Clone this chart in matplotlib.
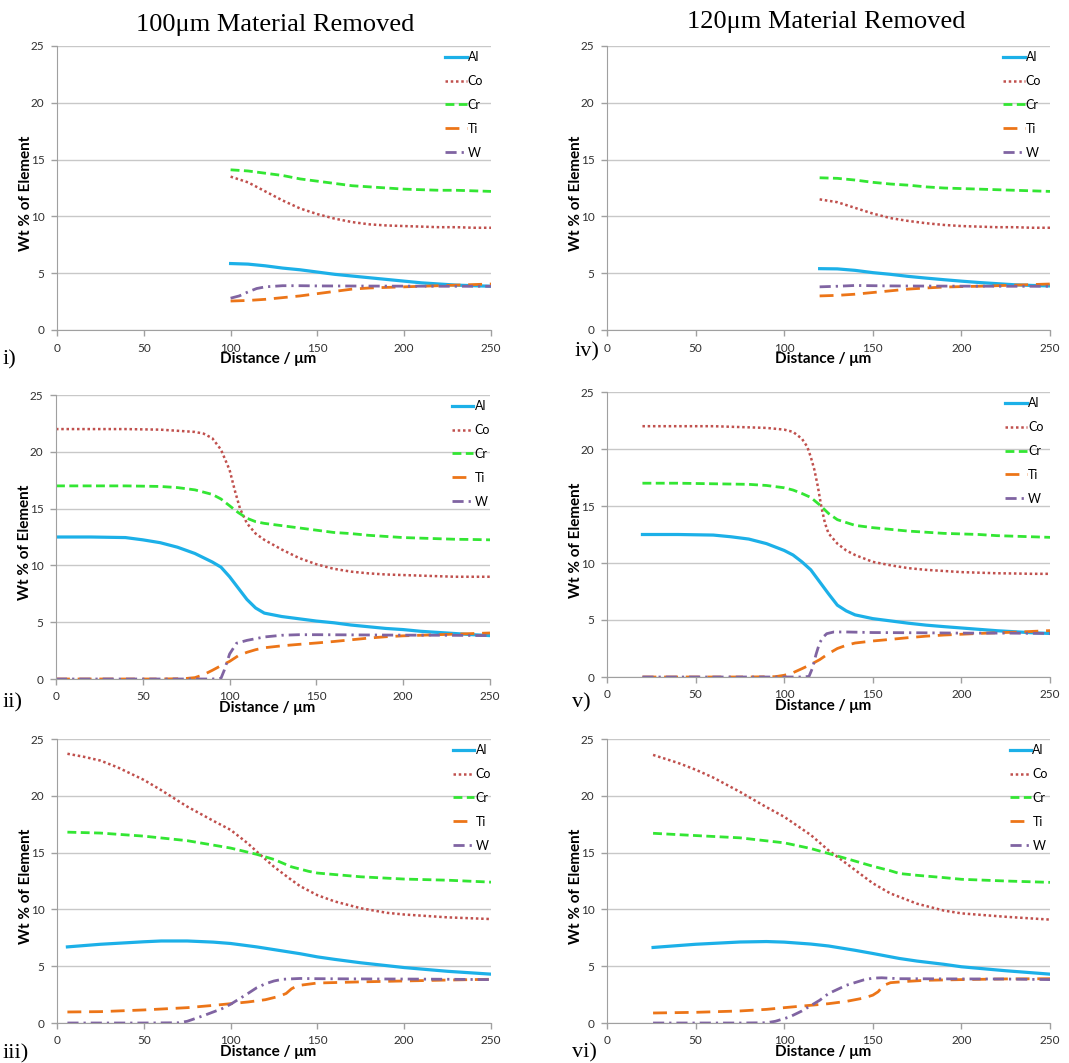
import matplotlib
matplotlib.use("Agg")
import matplotlib.pyplot as plt

plt.rcParams["font.family"] = ["Lato", "DejaVu Sans"]

# ---- panel i) 100um removed, x from 100 ----
i_al_x = [100, 110, 120, 130, 140, 150, 160, 170, 180, 190, 200, 210, 220, 230, 240, 250]
i_al = [5.85, 5.8, 5.65, 5.45, 5.3, 5.1, 4.9, 4.75, 4.6, 4.45, 4.3, 4.15, 4.05, 3.95, 3.9, 3.85]
i_co_x = [100, 110, 120, 130, 140, 150, 160, 170, 180, 190, 200, 210, 220, 230, 240, 250]
i_co = [13.5, 13.0, 12.2, 11.4, 10.7, 10.2, 9.8, 9.5, 9.3, 9.2, 9.15, 9.1, 9.05, 9.05, 9.0, 9.0]
i_cr_x = [100, 110, 120, 130, 140, 150, 160, 170, 180, 190, 200, 210, 220, 230, 240, 250]
i_cr = [14.1, 14.0, 13.8, 13.6, 13.3, 13.1, 12.9, 12.7, 12.6, 12.5, 12.4, 12.35, 12.3, 12.3, 12.25, 12.2]
i_ti_x = [100, 110, 120, 130, 140, 150, 160, 170, 180, 190, 200, 210, 220, 230, 240, 250]
i_ti = [2.55, 2.6, 2.7, 2.85, 3.0, 3.2, 3.4, 3.6, 3.7, 3.75, 3.8, 3.85, 3.9, 3.95, 4.0, 4.05]
i_w_x = [100, 105, 110, 115, 120, 130, 140, 150, 175, 200, 225, 250]
i_w = [2.8, 3.0, 3.35, 3.65, 3.8, 3.9, 3.9, 3.88, 3.87, 3.86, 3.85, 3.85]

# ---- panel ii) ----
ii_al_x = [0, 20, 40, 50, 60, 70, 80, 90, 95, 100, 105, 110, 115, 120, 130, 140, 150, 160, 170, 180, 190, 200, 210, 220, 230, 240, 250]
ii_al = [12.5, 12.5, 12.45, 12.25, 12.0, 11.6, 11.05, 10.3, 9.85, 9.0, 8.0, 7.0, 6.25, 5.8, 5.5, 5.3, 5.1, 4.95, 4.75, 4.6, 4.45, 4.35, 4.2, 4.1, 4.0, 3.9, 3.82]
ii_co_x = [0, 20, 40, 60, 70, 80, 85, 90, 95, 100, 103, 106, 110, 115, 120, 130, 140, 150, 160, 170, 180, 190, 200, 210, 220, 230, 240, 250]
ii_co = [22.0, 22.0, 22.0, 21.95, 21.85, 21.75, 21.6, 21.2, 20.2, 18.4, 16.6, 15.0, 13.7, 12.8, 12.25, 11.4, 10.65, 10.1, 9.7, 9.45, 9.3, 9.2, 9.15, 9.1, 9.05, 9.0, 9.0, 9.0]
ii_cr_x = [0, 20, 40, 60, 70, 80, 90, 95, 100, 105, 110, 115, 120, 130, 140, 150, 160, 170, 180, 190, 200, 210, 220, 230, 240, 250]
ii_cr = [17.0, 17.0, 17.0, 16.95, 16.85, 16.65, 16.25, 15.85, 15.25, 14.65, 14.15, 13.85, 13.7, 13.5, 13.3, 13.1, 12.9, 12.8, 12.65, 12.55, 12.45, 12.4, 12.35, 12.3, 12.28, 12.25]
ii_ti_x = [0, 20, 40, 60, 70, 75, 80, 85, 90, 95, 100, 105, 110, 115, 120, 130, 140, 150, 160, 170, 180, 190, 200, 210, 220, 230, 240, 250]
ii_ti = [0, 0, 0, 0, 0.02, 0.05, 0.12, 0.38, 0.76, 1.17, 1.55, 2.05, 2.35, 2.58, 2.75, 2.92, 3.05, 3.17, 3.3, 3.45, 3.6, 3.72, 3.8, 3.85, 3.9, 3.95, 4.0, 4.05]
ii_w_x = [0, 20, 40, 60, 80, 90, 95, 97, 100, 104, 110, 115, 120, 130, 140, 150, 175, 200, 225, 250]
ii_w = [0, 0, 0, 0, 0, 0, 0.05, 0.8, 2.2, 3.15, 3.4, 3.55, 3.7, 3.85, 3.9, 3.9, 3.88, 3.86, 3.85, 3.82]

# ---- panel iii) ----
iii_al_x = [6, 25, 50, 60, 75, 90, 100, 115, 125, 140, 150, 160, 175, 200, 225, 250]
iii_al = [6.7, 6.93, 7.15, 7.22, 7.22, 7.12, 7.0, 6.7, 6.46, 6.1, 5.82, 5.6, 5.3, 4.88, 4.55, 4.3]
iii_co_x = [6, 15, 25, 35, 50, 60, 75, 90, 100, 110, 115, 125, 135, 140, 150, 160, 175, 190, 200, 225, 250]
iii_co = [23.7, 23.45, 23.1, 22.5, 21.4, 20.5, 19.05, 17.8, 17.0, 15.8, 15.1, 13.75, 12.6, 12.05, 11.25, 10.7, 10.1, 9.7, 9.55, 9.3, 9.15]
iii_cr_x = [6, 25, 50, 75, 100, 115, 125, 135, 145, 150, 175, 200, 225, 250]
iii_cr = [16.8, 16.72, 16.45, 16.05, 15.4, 14.85, 14.4, 13.75, 13.35, 13.2, 12.87, 12.67, 12.57, 12.4]
iii_ti_x = [6, 25, 50, 75, 90, 100, 110, 120, 128, 132, 135, 138, 140, 150, 175, 200, 225, 250]
iii_ti = [0.97, 1.0, 1.15, 1.35, 1.55, 1.7, 1.85, 2.05, 2.35, 2.6, 3.0, 3.25, 3.32, 3.52, 3.62, 3.7, 3.78, 3.85]
iii_w_x = [6, 25, 50, 70, 75, 85, 95, 100, 110, 115, 120, 125, 130, 140, 150, 175, 200, 225, 250]
iii_w = [0, 0, 0, 0.02, 0.15, 0.68, 1.26, 1.65, 2.6, 3.1, 3.45, 3.7, 3.85, 3.92, 3.9, 3.88, 3.87, 3.85, 3.82]

# ---- panel iv) 120um removed, x from 120 ----
iv_al_x = [120, 130, 140, 150, 160, 170, 180, 190, 200, 210, 220, 230, 240, 250]
iv_al = [5.4, 5.38, 5.25, 5.05, 4.9, 4.72, 4.57, 4.43, 4.3, 4.18, 4.08, 3.98, 3.92, 3.88]
iv_co_x = [120, 130, 140, 150, 160, 170, 180, 190, 200, 210, 220, 230, 240, 250]
iv_co = [11.5, 11.25, 10.75, 10.25, 9.85, 9.6, 9.4, 9.25, 9.15, 9.1, 9.05, 9.05, 9.0, 9.0]
iv_cr_x = [120, 130, 140, 150, 160, 170, 180, 190, 200, 210, 220, 230, 240, 250]
iv_cr = [13.4, 13.35, 13.2, 13.0, 12.85, 12.75, 12.6, 12.5, 12.45, 12.4, 12.35, 12.3, 12.25, 12.2]
iv_ti_x = [120, 130, 140, 150, 160, 170, 180, 190, 200, 210, 220, 230, 240, 250]
iv_ti = [3.0, 3.05, 3.15, 3.3, 3.45, 3.6, 3.7, 3.78, 3.82, 3.85, 3.9, 3.95, 4.0, 4.05]
iv_w_x = [120, 130, 140, 150, 160, 175, 200, 225, 250]
iv_w = [3.8, 3.85, 3.92, 3.9, 3.88, 3.87, 3.86, 3.85, 3.85]

# ---- panel v) ----
v_al_x = [20, 40, 60, 70, 80, 90, 100, 105, 110, 115, 120, 125, 130, 135, 140, 150, 160, 170, 180, 190, 200, 210, 220, 230, 240, 250]
v_al = [12.5, 12.5, 12.45, 12.3, 12.1, 11.7, 11.1, 10.7, 10.1, 9.4, 8.35, 7.3, 6.3, 5.8, 5.45, 5.12, 4.92, 4.72, 4.55, 4.42, 4.3, 4.18, 4.06, 3.97, 3.88, 3.82]
v_co_x = [20, 40, 60, 80, 90, 100, 105, 110, 113, 115, 117, 119, 121, 123, 125, 130, 135, 140, 150, 160, 170, 180, 190, 200, 210, 220, 230, 240, 250]
v_co = [22.0, 22.0, 22.0, 21.9, 21.85, 21.7, 21.5, 20.9, 20.2, 19.3, 18.2, 16.7, 14.9, 13.5, 12.6, 11.7, 11.1, 10.7, 10.1, 9.8, 9.55, 9.4, 9.3, 9.2, 9.15, 9.1, 9.08, 9.05, 9.05]
v_cr_x = [20, 40, 60, 80, 90, 100, 105, 110, 115, 120, 125, 130, 140, 150, 160, 170, 180, 190, 200, 210, 220, 230, 240, 250]
v_cr = [17.0, 17.0, 16.95, 16.9, 16.8, 16.6, 16.4, 16.1, 15.75, 15.1, 14.35, 13.8, 13.3, 13.1, 12.95, 12.8, 12.7, 12.6, 12.55, 12.5, 12.4, 12.35, 12.3, 12.25]
v_ti_x = [20, 40, 60, 80, 95, 100, 105, 110, 115, 120, 125, 130, 135, 140, 150, 160, 170, 180, 190, 200, 210, 220, 230, 240, 250]
v_ti = [0, 0, 0, 0, 0.03, 0.15, 0.38, 0.73, 1.1, 1.52, 2.05, 2.5, 2.78, 2.98, 3.16, 3.3, 3.45, 3.58, 3.68, 3.75, 3.82, 3.88, 3.93, 4.0, 4.07]
v_w_x = [20, 40, 60, 80, 100, 110, 114, 116, 118, 120, 122, 124, 128, 135, 150, 175, 200, 225, 250]
v_w = [0, 0, 0, 0, 0, 0, 0.05, 0.8, 2.0, 3.0, 3.5, 3.8, 3.95, 3.95, 3.9, 3.88, 3.85, 3.85, 3.82]

# ---- panel vi) ----
vi_al_x = [26, 50, 75, 90, 100, 115, 125, 140, 150, 165, 175, 190, 200, 225, 250]
vi_al = [6.65, 6.93, 7.13, 7.17, 7.12, 6.95, 6.78, 6.4, 6.12, 5.68, 5.45, 5.17, 4.95, 4.6, 4.3]
vi_co_x = [26, 40, 50, 60, 75, 90, 100, 115, 125, 135, 150, 160, 175, 190, 200, 225, 250]
vi_co = [23.6, 22.9, 22.3, 21.6, 20.35, 19.0, 18.15, 16.55, 15.2, 14.05, 12.3, 11.4, 10.5, 9.9, 9.65, 9.35, 9.1]
vi_cr_x = [26, 50, 75, 100, 115, 125, 135, 150, 160, 165, 175, 190, 200, 225, 250]
vi_cr = [16.7, 16.5, 16.3, 15.86, 15.36, 14.92, 14.48, 13.8, 13.4, 13.16, 13.0, 12.8, 12.65, 12.5, 12.38]
vi_ti_x = [26, 50, 75, 90, 100, 115, 125, 135, 145, 150, 153, 156, 160, 170, 180, 200, 225, 250]
vi_ti = [0.88, 0.94, 1.06, 1.2, 1.35, 1.56, 1.7, 1.9, 2.2, 2.45, 2.75, 3.3, 3.55, 3.67, 3.76, 3.82, 3.88, 3.9]
vi_w_x = [26, 50, 75, 90, 95, 103, 110, 120, 125, 135, 145, 150, 155, 165, 200, 225, 250]
vi_w = [0, 0, 0, 0.02, 0.15, 0.53, 1.06, 2.0, 2.59, 3.32, 3.8, 3.95, 3.98, 3.9, 3.88, 3.87, 3.82]

elements = ["Al", "Co", "Cr", "Ti", "W"]
x_ticks = [0, 50, 100, 150, 200, 250]
y_ticks = [0, 5, 10, 15, 20, 25]
col_titles = ["100\u03bcm Material Removed", "120\u03bcm Material Removed"]
panel_labels = ["i)", "ii)", "iii)", "iv)", "v)", "vi)"]

panels = [
    [(i_al_x, i_al), (i_co_x, i_co), (i_cr_x, i_cr), (i_ti_x, i_ti), (i_w_x, i_w)],
    [(ii_al_x, ii_al), (ii_co_x, ii_co), (ii_cr_x, ii_cr), (ii_ti_x, ii_ti), (ii_w_x, ii_w)],
    [(iii_al_x, iii_al), (iii_co_x, iii_co), (iii_cr_x, iii_cr), (iii_ti_x, iii_ti), (iii_w_x, iii_w)],
    [(iv_al_x, iv_al), (iv_co_x, iv_co), (iv_cr_x, iv_cr), (iv_ti_x, iv_ti), (iv_w_x, iv_w)],
    [(v_al_x, v_al), (v_co_x, v_co), (v_cr_x, v_cr), (v_ti_x, v_ti), (v_w_x, v_w)],
    [(vi_al_x, vi_al), (vi_co_x, vi_co), (vi_cr_x, vi_cr), (vi_ti_x, vi_ti), (vi_w_x, vi_w)],
]

styles = {
    "Al": dict(color="#1cb0e8", ls="-", lw=2.3),
    "Co": dict(color="#c0504d", ls=(0, (1, 1.1)), lw=1.8),
    "Cr": dict(color="#33e633", ls=(0, (3.2, 1.6)), lw=2.0),
    "Ti": dict(color="#ec7518", ls=(0, (5, 2.8)), lw=2.0),
    "W": dict(color="#8064a2", ls=(0, (4, 1.8, 0.8, 1.8)), lw=2.0),
}

fig = plt.figure(figsize=(10.69, 10.63), dpi=100)

W, H = 1069, 1063
# axes boxes in pixels: left, top, right, bottom
boxes = [
    (57, 46, 491, 330), (56, 395, 490, 679), (57, 739, 491, 1023),
    (607, 46, 1050, 330), (607, 392, 1050, 677), (607, 739, 1050, 1023),
]
legend_right = [0.982, 1.0, 1.0, 0.98, 0.985, 0.995]

for k, (box, curves) in enumerate(zip(boxes, panels)):
    l, t, r, b = box
    ax = fig.add_axes([l / W, 1 - b / H, (r - l) / W, (b - t) / H])
    for name, (xs, ys) in zip(elements, curves):
        ax.plot(xs, ys, label=name, **styles[name])
    ax.set_xlim(0, 250)
    ax.set_ylim(0, 25)
    ax.set_xticks(x_ticks)
    ax.set_yticks(y_ticks)
    ax.yaxis.grid(True, color="#c8c8c8", lw=1)
    ax.set_axisbelow(True)
    for s in ["top", "right"]:
        ax.spines[s].set_visible(False)
    for s in ["left", "bottom"]:
        ax.spines[s].set_color("#a0a0a0")
    ax.tick_params(axis="both", colors="#a0a0a0", labelcolor="#303030",
                   labelsize=8.5, length=4, width=1, pad=5)
    ax.set_xlabel("Distance / \u03bcm", fontsize=11, fontweight="bold")
    ax.xaxis.set_label_coords(0.487, -0.078)
    ax.set_ylabel("Wt % of Element", fontsize=11, fontweight="bold")
    ax.yaxis.set_label_coords(-0.055, 0.48)
    ax.legend(loc="upper right", bbox_to_anchor=(legend_right[k], 0.982),
              frameon=False, fontsize=9, handlelength=1.7, handletextpad=0.1,
              labelspacing=0.95, borderpad=0, borderaxespad=0)

fig.text(275 / W, 1 - 25 / H, col_titles[0], family="Liberation Serif",
         fontsize=19, ha="center", va="center")
fig.text(826 / W, 1 - 22 / H, col_titles[1], family="Liberation Serif",
         fontsize=19, ha="center", va="center")

label_pos = [(3, 360), (3, 703), (3, 1054), (575, 352), (572, 703), (572, 1053)]
for lab, (px, py) in zip(panel_labels, label_pos):
    fig.text(px / W, 1 - py / H, lab, family="Liberation Serif", fontsize=16,
             ha="left", va="center")

fig.savefig("out.png", dpi=100)
